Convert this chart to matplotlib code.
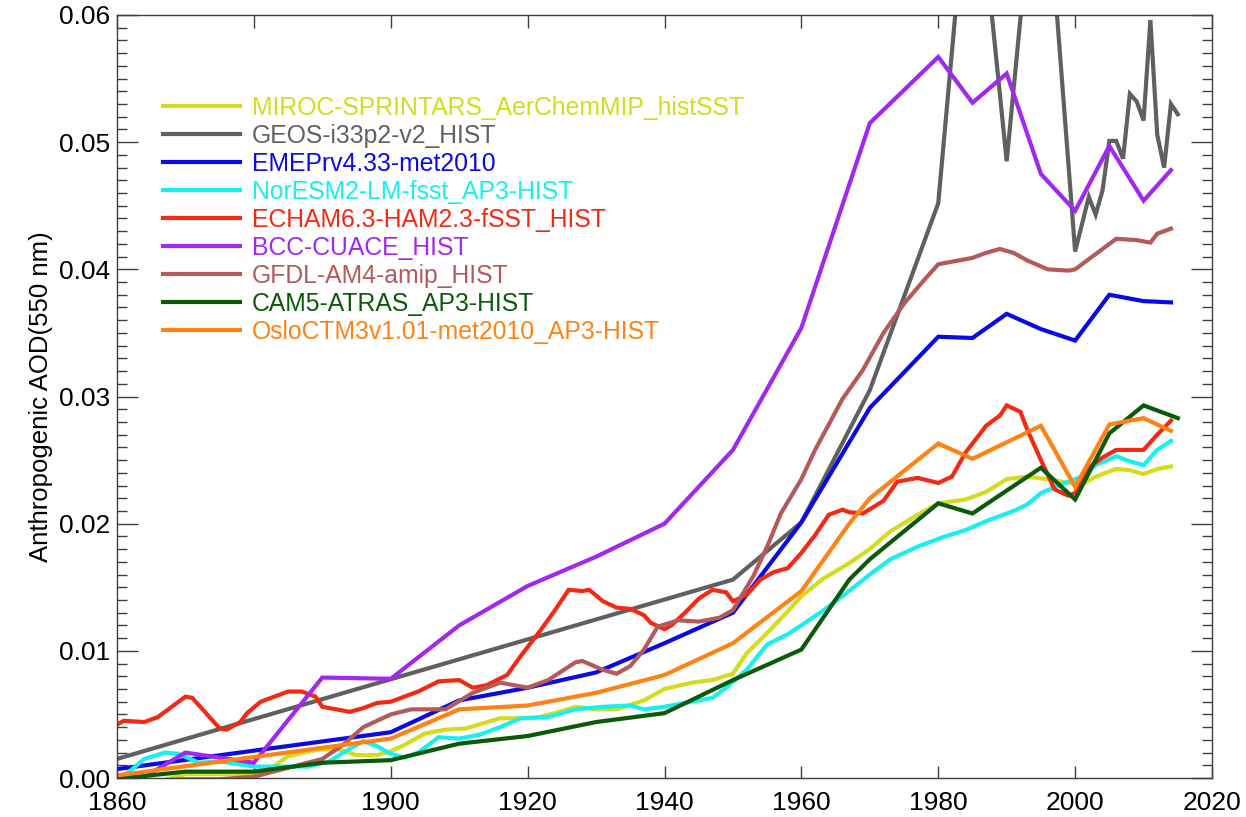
import numpy as np
import matplotlib
matplotlib.use("Agg")
import matplotlib.pyplot as plt
from matplotlib.ticker import MultipleLocator, FormatStrFormatter

plt.rcParams['font.family'] = ['Liberation Sans', 'DejaVu Sans']

# ---------------- data ----------------
miroc_yr = [1866, 1870, 1875, 1880, 1882, 1885, 1889, 1892, 1895, 1898, 1900, 1902, 1905, 1908, 1911,
            1916, 1921, 1924, 1927, 1930, 1933, 1937, 1940, 1944, 1947, 1950, 1952, 1955, 1958, 1960,
            1963, 1967, 1970, 1973, 1977, 1980, 1984, 1987, 1990, 1993, 1996, 1999, 2001, 2003, 2006,
            2008, 2010, 2012, 2014]
miroc_v = [-0.0003, 0.0003, 0.0003, 0.0003, 0.0006, 0.0017, 0.0022, 0.0023, 0.0018, 0.0018, 0.0021,
           0.0026, 0.0035, 0.0038, 0.0039, 0.0047, 0.0047, 0.0051, 0.0056, 0.0054, 0.0054, 0.0061,
           0.0070, 0.0075, 0.0077, 0.0082, 0.0098, 0.0114, 0.0131, 0.0143, 0.0156, 0.0169, 0.0180,
           0.0194, 0.0207, 0.0216, 0.0219, 0.0225, 0.0235, 0.0237, 0.0235, 0.0232, 0.0231, 0.0237,
           0.0243, 0.0242, 0.0239, 0.0243, 0.0245]

geos_yr = [1860, 1950, 1960, 1970, 1980, 1985, 1990, 1995, 2000, 2002, 2003, 2004, 2005, 2006, 2007,
           2008, 2009, 2010, 2011, 2012, 2013, 2014, 2015]
geos_v = [0.0015, 0.0156, 0.0201, 0.0305, 0.0452, 0.0750, 0.0485, 0.0765, 0.0414, 0.0457, 0.0443,
          0.0462, 0.0501, 0.0501, 0.0487, 0.0538, 0.0532, 0.0517, 0.0596, 0.0506, 0.0480, 0.0530, 0.0522]

emep_yr = [1860, 1900, 1910, 1920, 1930, 1940, 1950, 1960, 1970, 1980, 1985, 1990, 1995, 2000, 2005,
           2010, 2014]
emep_v = [0.0007, 0.0036, 0.0061, 0.0071, 0.0083, 0.0106, 0.0130, 0.0201, 0.0291, 0.0347, 0.0346,
          0.0365, 0.0353, 0.0344, 0.0380, 0.0375, 0.0374]

noresm_yr = [1860, 1862, 1864, 1867, 1869, 1872, 1875, 1880, 1885, 1888, 1891, 1894, 1896, 1898, 1900,
             1902, 1904, 1907, 1910, 1913, 1916, 1919, 1923, 1927, 1931, 1935, 1937, 1940, 1944,
             1947, 1949, 1952, 1955, 1958, 1960, 1963, 1966, 1970, 1973, 1977, 1981, 1984, 1987,
             1991, 1993, 1995, 1998, 2001, 2003, 2006, 2008, 2010, 2012, 2014]
noresm_v = [-0.0002, 0.0006, 0.0015, 0.0020, 0.0019, 0.0012, 0.0013, 0.0009, 0.0009, 0.0009, 0.0013,
            0.0023, 0.0029, 0.0025, 0.0019, 0.0016, 0.0020, 0.0032, 0.0031, 0.0034, 0.0040, 0.0047,
            0.0048, 0.0054, 0.0056, 0.0057, 0.0054, 0.0056, 0.0060, 0.0063, 0.0071, 0.0085, 0.0105,
            0.0113, 0.0120, 0.0131, 0.0143, 0.0160, 0.0172, 0.0182, 0.0190, 0.0195, 0.0202, 0.0210,
            0.0215, 0.0224, 0.0231, 0.0237, 0.0246, 0.0253, 0.0249, 0.0246, 0.0258, 0.0265]

echam_yr = [1860, 1861, 1864, 1866, 1868, 1870, 1871, 1873, 1875, 1876, 1878, 1879, 1881, 1883, 1885,
            1887, 1889, 1890, 1892, 1894, 1896, 1898, 1900, 1902, 1904, 1907, 1910, 1912, 1914,
            1917, 1919, 1922, 1924, 1926, 1928, 1929, 1931, 1933, 1935, 1937, 1938, 1940, 1941,
            1943, 1945, 1947, 1949, 1950, 1952, 1954, 1956, 1958, 1960, 1962, 1964, 1966, 1967,
            1969, 1972, 1974, 1977, 1980, 1982, 1984, 1987, 1989, 1990, 1992, 1993, 1995, 1997,
            1999, 2000, 2002, 2004, 2006, 2008, 2010, 2012, 2014]
echam_v = [0.0042, 0.0045, 0.0044, 0.0048, 0.0056, 0.0064, 0.0063, 0.0051, 0.0039, 0.0038, 0.0044,
           0.0051, 0.0060, 0.0064, 0.0068, 0.0068, 0.0064, 0.0056, 0.0054, 0.0052, 0.0055, 0.0059,
           0.0060, 0.0064, 0.0068, 0.0076, 0.0077, 0.0071, 0.0073, 0.0081, 0.0096, 0.0117, 0.0132,
           0.0148, 0.0147, 0.0148, 0.0139, 0.0134, 0.0133, 0.0128, 0.0122, 0.0117, 0.0120, 0.0130,
           0.0141, 0.0148, 0.0146, 0.0139, 0.0144, 0.0156, 0.0162, 0.0165, 0.0177, 0.0191, 0.0207,
           0.0211, 0.0209, 0.0208, 0.0218, 0.0233, 0.0236, 0.0232, 0.0237, 0.0256, 0.0277, 0.0285,
           0.0293, 0.0288, 0.0274, 0.0250, 0.0227, 0.0222, 0.0224, 0.0244, 0.0252, 0.0258, 0.0258,
           0.0258, 0.0270, 0.0281]

bcc_yr = [1860, 1870, 1880, 1890, 1900, 1910, 1920, 1930, 1940, 1950, 1960, 1970, 1980, 1985, 1990,
          1995, 2000, 2005, 2010, 2014]
bcc_v = [-0.0012, 0.0020, 0.0012, 0.0079, 0.0078, 0.0120, 0.0151, 0.0174, 0.0200, 0.0258, 0.0354,
         0.0515, 0.0567, 0.0531, 0.0554, 0.0475, 0.0446, 0.0497, 0.0454, 0.0478]

gfdl_yr = [1860, 1865, 1870, 1875, 1880, 1885, 1890, 1893, 1896, 1900, 1903, 1908, 1912, 1916, 1920,
           1923, 1927, 1928, 1931, 1933, 1935, 1937, 1939, 1942, 1945, 1948, 1950, 1953, 1955,
           1957, 1960, 1962, 1966, 1969, 1972, 1975, 1978, 1980, 1983, 1985, 1987, 1989, 1991,
           1993, 1996, 1999, 2000, 2002, 2006, 2009, 2011, 2012, 2014]
gfdl_v = [-0.0003, -0.0002, -0.0001, -0.0001, 0.0001, 0.0008, 0.0015, 0.0026, 0.0040, 0.0050, 0.0054,
          0.0054, 0.0067, 0.0075, 0.0071, 0.0077, 0.0091, 0.0092, 0.0085, 0.0082, 0.0088, 0.0101,
          0.0119, 0.0124, 0.0123, 0.0126, 0.0132, 0.0159, 0.0182, 0.0208, 0.0235, 0.0258, 0.0298,
          0.0321, 0.0350, 0.0373, 0.0392, 0.0404, 0.0407, 0.0409, 0.0413, 0.0416, 0.0413, 0.0407,
          0.0400, 0.0399, 0.0400, 0.0408, 0.0424, 0.0423, 0.0421, 0.0428, 0.0432]

cam5_yr = [1860, 1863, 1870, 1880, 1890, 1900, 1910, 1920, 1930, 1940, 1950, 1960, 1967, 1970, 1980,
           1985, 1995, 2000, 2005, 2010, 2015]
cam5_v = [0.0000, 0.0001, 0.0005, 0.0005, 0.0012, 0.0014, 0.0027, 0.0033, 0.0044, 0.0051, 0.0077,
          0.0101, 0.0156, 0.0172, 0.0216, 0.0208, 0.0244, 0.0219, 0.0271, 0.0293, 0.0283]

oslo_yr = [1860, 1900, 1910, 1920, 1930, 1940, 1950, 1960, 1967, 1970, 1980, 1985, 1995, 2000, 2005,
           2010, 2014]
oslo_v = [0.0002, 0.0031, 0.0054, 0.0057, 0.0067, 0.0081, 0.0106, 0.0147, 0.0200, 0.0220, 0.0263,
          0.0251, 0.0277, 0.0229, 0.0278, 0.0283, 0.0273]

series = [
    ("MIROC-SPRINTARS_AerChemMIP_histSST", miroc_yr, miroc_v, "#d4dc1e"),
    ("GEOS-i33p2-v2_HIST", geos_yr, geos_v, "#606060"),
    ("EMEPrv4.33-met2010", emep_yr, emep_v, "#0a0ae6"),
    ("NorESM2-LM-fsst_AP3-HIST", noresm_yr, noresm_v, "#18f0f0"),
    ("ECHAM6.3-HAM2.3-fSST_HIST", echam_yr, echam_v, "#f52814"),
    ("BCC-CUACE_HIST", bcc_yr, bcc_v, "#a028f0"),
    ("GFDL-AM4-amip_HIST", gfdl_yr, gfdl_v, "#b45a5a"),
    ("CAM5-ATRAS_AP3-HIST", cam5_yr, cam5_v, "#0a5a0a"),
    ("OsloCTM3v1.01-met2010_AP3-HIST", oslo_yr, oslo_v, "#ff8214"),
]

# ---------------- plot ----------------
fig = plt.figure(figsize=(12.46, 8.17), dpi=100)
ax = fig.add_axes([117/1246, 1 - 778/817, 1095/1246, 763/817])

for name, yr, v, col in series:
    ax.plot(yr, v, color=col, lw=3.0, label=name, solid_joinstyle='miter')

ax.set_xlim(1860, 2020)
ax.set_ylim(0, 0.06)
ax.xaxis.set_major_locator(MultipleLocator(20))
ax.yaxis.set_major_locator(MultipleLocator(0.01))
ax.yaxis.set_minor_locator(MultipleLocator(0.001))
ax.yaxis.set_major_formatter(FormatStrFormatter('%.2f'))

ax.tick_params(axis='both', which='both', direction='in', top=True, right=True,
               color='#404040', labelsize=19)
ax.tick_params(axis='y', which='major', length=15, width=1.0, pad=5)
ax.tick_params(axis='y', which='minor', length=7, width=1.0)
ax.tick_params(axis='x', which='major', length=9, width=1.0, pad=9)
for s in ax.spines.values():
    s.set_color('#404040')
    s.set_linewidth(1.0)

# end labels sit inside the axis range, like the original
yticks = ax.yaxis.get_major_ticks()
yticks[0].label1.set_va('bottom')
yticks[-1].label1.set_va('top')

ax.set_ylabel("Anthropogenic AOD(550 nm)", fontsize=18.5, labelpad=4)

leg = ax.legend(loc='upper left', bbox_to_anchor=(0.042, 0.894), frameon=False,
                fontsize=17.8, handlelength=3.1, handletextpad=0.5, labelspacing=0.16,
                borderpad=0, borderaxespad=0, labelcolor='linecolor')

fig.savefig("out.png", dpi=100)
